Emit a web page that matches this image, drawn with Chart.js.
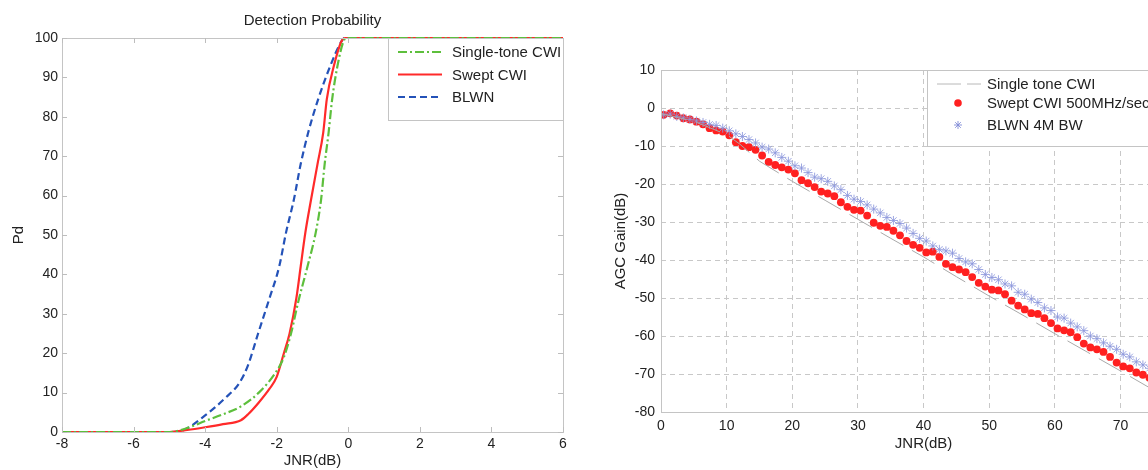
<!DOCTYPE html>
<html>
<head>
<meta charset="utf-8">
<script src="https://cdn.jsdelivr.net/npm/chart.js@4"></script>
<style>
  html, body { margin: 0; padding: 0; background: #fff; overflow: hidden; width: 1148px; height: 470px; }
  #pdChart { position: absolute; left: 0; top: 0; }
  #agcChart { position: absolute; left: 590px; top: 0; }
</style>
</head>
<body>
<canvas id="pdChart" width="575" height="470"></canvas>
<canvas id="agcChart" width="610" height="470"></canvas>
<script>
// ---- Left chart: detection probability vs JNR ----
const toneX  = [-8, -5, -4.5, -4, -3.5, -3, -2.5, -2, -1.8, -1.6, -1.4, -1.14, -0.91, -0.76, -0.66, -0.55, -0.45, -0.3, -0.14, -0.05, 6];
const toneY  = [0, 0, 1, 2.8, 4.5, 6.5, 10, 15.5, 19, 25, 33, 42, 50.6, 59, 68, 76, 84.5, 93, 99, 100, 100];

const sweptX = [-8, -5, -4.5, -4, -3.5, -3, -2.8, -2.5, -2.2, -2, -1.8, -1.64, -1.45, -1.33, -1.2, -1.04, -0.86, -0.7, -0.6, -0.4, -0.2, -0.08, 6];
const sweptY = [0, 0, 0.5, 1.2, 2, 3, 4.5, 7.5, 11, 14, 20, 25, 34, 42, 50.6, 59, 68, 76, 84.5, 93, 99, 100, 100];

const blwnX  = [-8, -5, -4.6, -4, -3.44, -3.04, -2.8, -2.52, -2.2, -1.93, -1.74, -1.52, -1.33, -1.12, -0.84, -0.5, -0.2, -0.1, 6];
const blwnY  = [0, 0, 0.5, 4.2, 8.6, 12.5, 17, 25, 34, 42, 50.6, 59, 68, 76, 84.5, 93, 99, 100, 100];

const pdLabels = ['Single-tone CWI', 'Swept CWI', 'BLWN'];

// ---- Right chart: AGC gain vs JNR ----
const agcX = [0.4, 1.4, 2.4, 3.4, 4.4, 5.4, 6.4, 7.4, 8.4, 9.4,
  10.4, 11.4, 12.4, 13.4, 14.4, 15.4, 16.4, 17.4, 18.4, 19.4,
  20.4, 21.4, 22.4, 23.4, 24.4, 25.4, 26.4, 27.4, 28.4, 29.4,
  30.4, 31.4, 32.4, 33.4, 34.4, 35.4, 36.4, 37.4, 38.4, 39.4,
  40.4, 41.4, 42.4, 43.4, 44.4, 45.4, 46.4, 47.4, 48.4, 49.4,
  50.4, 51.4, 52.4, 53.4, 54.4, 55.4, 56.4, 57.4, 58.4, 59.4,
  60.4, 61.4, 62.4, 63.4, 64.4, 65.4, 66.4, 67.4, 68.4, 69.4,
  70.4, 71.4, 72.4, 73.4, 74.4, 75.4];
const sweptGain = [-1.8, -1.4, -2.0, -2.7, -3.0, -3.6, -4.3, -5.3, -5.9, -6.2,
  -7.2, -9.0, -10.0, -10.3, -11.0, -12.5, -14.2, -15.0, -15.6, -16.2,
  -17.2, -19.0, -19.8, -20.8, -22.0, -22.5, -23.2, -24.8, -26.0, -26.8,
  -27.0, -28.3, -30.2, -31.0, -31.3, -32.3, -33.5, -35.0, -36.0, -36.8,
  -38.0, -37.8, -39.2, -41.0, -41.9, -42.5, -43.2, -44.5, -46.0, -47.0,
  -47.8, -48.0, -49.0, -50.7, -52.0, -53.0, -54.0, -54.2, -55.3, -56.6,
  -58.0, -58.5, -59.0, -60.3, -62.0, -63.0, -63.5, -64.2, -65.5, -67.0,
  -68.0, -68.5, -69.6, -70.2, -71.0, -72.0];
const blwnGain = [-1.8, -1.6, -2.2, -2.6, -3.0, -3.4, -3.8, -4.3, -4.6, -5.3,
  -6.0, -6.8, -7.5, -8.3, -9.2, -10.3, -10.8, -11.8, -13.0, -14.0,
  -15.2, -15.8, -17.0, -18.2, -18.6, -19.3, -20.5, -21.5, -23.0, -24.0,
  -24.6, -25.5, -26.6, -27.6, -28.8, -29.6, -30.4, -31.6, -33.0, -34.3,
  -35.0, -36.3, -37.2, -37.6, -38.2, -39.6, -40.5, -41.0, -42.5, -43.8,
  -44.6, -45.2, -46.3, -46.8, -48.5, -49.0, -50.3, -51.2, -52.6, -53.3,
  -55.0, -55.3, -56.6, -57.6, -58.6, -60.0, -60.7, -61.8, -62.7, -63.5,
  -64.8, -65.5, -66.8, -67.6, -68.5, -69.5];
const toneGainX = [0, 5, 10, 12, 15, 20, 25, 30, 35, 40, 45, 50, 55, 60, 65, 70, 75, 80];
const toneGainY = [-1.5, -3.5, -7, -9.5, -14, -19.3, -24.3, -29.3, -34.3, -39.2, -44.4, -49.5, -54.4, -59.4, -64.3, -69.2, -74.2, -79.2];

const agcLabels = ['Single tone CWI', 'Swept CWI 500MHz/sec', 'BLWN 4M BW'];

const FONT = '"Liberation Sans", Arial, Helvetica, sans-serif';
const toXY = (xs, ys) => xs.map((x, i) => ({ x: x, y: ys[i] }));

// box around plot area + small inward ticks
const frame = (withTicks) => ({
  id: 'frame',
  afterDraw(chart) {
    const ctx = chart.ctx, a = chart.chartArea;
    ctx.save();
    ctx.strokeStyle = '#c4c4c4';
    ctx.lineWidth = 1;
    ctx.setLineDash([]);
    ctx.strokeRect(a.left + 0.5, a.top + 0.5, a.right - a.left, a.bottom - a.top);
    if (withTicks) {
      ctx.strokeStyle = '#bdbdbd';
      ctx.beginPath();
      chart.scales.x.ticks.forEach(t => {
        const px = Math.round(chart.scales.x.getPixelForValue(t.value)) + 0.5;
        ctx.moveTo(px, a.bottom); ctx.lineTo(px, a.bottom - 5);
        ctx.moveTo(px, a.top); ctx.lineTo(px, a.top + 5);
      });
      chart.scales.y.ticks.forEach(t => {
        const py = Math.round(chart.scales.y.getPixelForValue(t.value)) + 0.5;
        ctx.moveTo(a.left, py); ctx.lineTo(a.left + 5, py);
        ctx.moveTo(a.right, py); ctx.lineTo(a.right - 5, py);
      });
      ctx.stroke();
    }
    ctx.restore();
  }
});

// legend + title for the left chart
const pdExtras = {
  id: 'pdExtras',
  afterDraw(chart) {
    const ctx = chart.ctx, a = chart.chartArea;
    ctx.save();
    ctx.fillStyle = '#222';
    ctx.font = '15px ' + FONT;
    ctx.textAlign = 'center';
    ctx.textBaseline = 'middle';
    ctx.fillText('Detection Probability', (a.left + a.right) / 2, 21);

    const bx = a.right - 175, by = a.top, bw = 175, bh = 82;
    ctx.fillStyle = '#fff';
    ctx.fillRect(bx, by, bw, bh);
    ctx.strokeStyle = '#c4c4c4';
    ctx.strokeRect(bx + 0.5, by + 0.5, bw, bh);
    ctx.font = '15px ' + FONT;
    ctx.textAlign = 'left';
    chart.data.datasets.forEach((ds, i) => {
      const y = by + 14 + i * 22.5;
      ctx.strokeStyle = ds.borderColor;
      ctx.lineWidth = ds.borderWidth;
      ctx.setLineDash(ds.borderDash || []);
      ctx.beginPath();
      ctx.moveTo(bx + 10, y); ctx.lineTo(bx + 54, y);
      ctx.stroke();
      ctx.setLineDash([]);
      ctx.fillStyle = '#222';
      ctx.fillText(ds.label, bx + 64, y + 1);
    });
    ctx.restore();
  }
};

new Chart(document.getElementById('pdChart'), {
  type: 'scatter',
  data: {
    datasets: [
      { label: pdLabels[0], data: toXY(toneX, toneY), showLine: true, borderColor: '#5dbf3c', borderWidth: 2.2,
        borderDash: [9, 3, 2, 3], pointRadius: 0, cubicInterpolationMode: 'monotone', clip: 4 },
      { label: pdLabels[1], data: toXY(sweptX, sweptY), showLine: true, borderColor: '#ff2a2a', borderWidth: 2.2,
        pointRadius: 0, cubicInterpolationMode: 'monotone', clip: 4 },
      { label: pdLabels[2], data: toXY(blwnX, blwnY), showLine: true, borderColor: '#2452b8', borderWidth: 2.2,
        borderDash: [7, 4], pointRadius: 0, cubicInterpolationMode: 'monotone', clip: 4 }
    ]
  },
  options: {
    responsive: false,
    animation: false,
    layout: { padding: { top: 38, right: 12, left: 10, bottom: 0 } },
    plugins: { legend: { display: false }, tooltip: { enabled: false } },
    scales: {
      x: {
        type: 'linear', min: -8, max: 6,
        afterFit: s => { s.height = 38; },
        grid: { display: false, drawTicks: false },
        border: { display: false },
        ticks: { stepSize: 2, color: '#222', font: { family: FONT, size: 14 }, padding: 4, maxRotation: 0 },
        title: { display: true, text: 'JNR(dB)', color: '#222', font: { family: FONT, size: 15 }, padding: 0 }
      },
      y: {
        min: 0, max: 100,
        afterFit: s => { s.width = 52; },
        grid: { display: false, drawTicks: false },
        border: { display: false },
        ticks: { stepSize: 10, color: '#222', font: { family: FONT, size: 14 }, padding: 4 },
        title: { display: true, text: 'Pd', color: '#222', font: { family: FONT, size: 15 }, padding: 0 }
      }
    }
  },
  plugins: [frame(true), pdExtras]
});

// legend for the right chart
const agcLegend = {
  id: 'agcLegend',
  afterDraw(chart) {
    const ctx = chart.ctx, a = chart.chartArea;
    const bx = 337, by = a.top, bw = a.right - bx, bh = 76;
    ctx.save();
    ctx.fillStyle = '#fff';
    ctx.fillRect(bx, by, bw, bh);
    ctx.strokeStyle = '#c4c4c4';
    ctx.lineWidth = 1;
    ctx.strokeRect(bx + 0.5, by + 0.5, bw, bh);
    ctx.font = '15px ' + FONT;
    ctx.textBaseline = 'middle';
    ctx.textAlign = 'left';
    const rows = [by + 14, by + 33, by + 55];
    // line sample
    ctx.strokeStyle = '#b8b8b8';
    ctx.setLineDash([24, 6]);
    ctx.beginPath(); ctx.moveTo(bx + 10, rows[0]); ctx.lineTo(bx + 54, rows[0]); ctx.stroke();
    ctx.setLineDash([]);
    // dot sample
    ctx.fillStyle = '#ff2020';
    ctx.beginPath(); ctx.arc(bx + 31, rows[1], 3.8, 0, Math.PI * 2); ctx.fill();
    // star sample
    ctx.strokeStyle = 'rgba(130,140,215,0.9)';
    ctx.beginPath();
    for (let k = 0; k < 4; k++) {
      const ang = k * Math.PI / 4;
      ctx.moveTo(bx + 31 - 4 * Math.cos(ang), rows[2] - 4 * Math.sin(ang));
      ctx.lineTo(bx + 31 + 4 * Math.cos(ang), rows[2] + 4 * Math.sin(ang));
    }
    ctx.stroke();
    ctx.fillStyle = '#222';
    agcLabels.forEach((t, i) => ctx.fillText(t, bx + 60, rows[i] + 1));
    ctx.restore();
  }
};

new Chart(document.getElementById('agcChart'), {
  type: 'scatter',
  data: {
    datasets: [
      { label: agcLabels[0], data: toXY(toneGainX, toneGainY), showLine: true, borderColor: '#a9a9a9', borderWidth: 1,
        borderDash: [26, 10], pointRadius: 0 },
      { label: agcLabels[2], data: toXY(agcX, blwnGain), pointStyle: 'star', pointRadius: 4.5, borderWidth: 1,
        borderColor: 'rgba(140,150,220,0.85)', backgroundColor: 'rgba(140,150,220,0.85)' },
      { label: agcLabels[1], data: toXY(agcX, sweptGain), pointStyle: 'circle', pointRadius: 3.9, borderWidth: 0,
        backgroundColor: '#ff2020' }
    ]
  },
  options: {
    responsive: false,
    animation: false,
    layout: { padding: { top: 70, right: 8, left: 22, bottom: 13 } },
    plugins: { legend: { display: false }, tooltip: { enabled: false } },
    scales: {
      x: {
        type: 'linear', min: 0, max: 80,
        afterFit: s => { s.height = 45; },
        grid: { color: '#c8c8c8', drawTicks: false },
        border: { display: false, dash: [5, 4] },
        ticks: { stepSize: 10, color: '#222', font: { family: FONT, size: 14 }, padding: 6, maxRotation: 0 },
        title: { display: true, text: 'JNR(dB)', color: '#222', font: { family: FONT, size: 15 }, padding: { top: 2 } }
      },
      y: {
        min: -80, max: 10,
        afterFit: s => { s.width = 49; },
        grid: { color: '#c8c8c8', drawTicks: false },
        border: { display: false, dash: [5, 4] },
        ticks: { stepSize: 10, color: '#222', font: { family: FONT, size: 14 }, padding: 6 },
        title: { display: true, text: 'AGC Gain(dB)', color: '#222', font: { family: FONT, size: 15 }, padding: 0 }
      }
    }
  },
  plugins: [frame(false), agcLegend]
});
</script>
</body>
</html>
